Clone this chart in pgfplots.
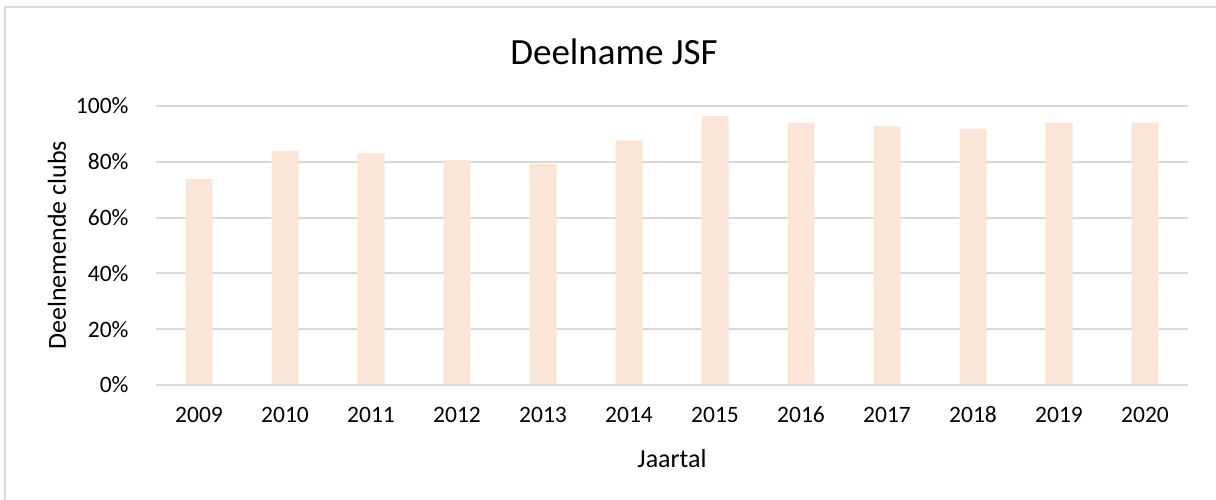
\documentclass[border=0pt]{standalone}
\usepackage{pgfplots}
\pgfplotsset{compat=1.18}
\usepackage{fontspec}
\setmainfont{Carlito}[Numbers=Lining]
\definecolor{barc}{HTML}{FBE5D6}
\definecolor{gridc}{HTML}{D9D9D9}
\begin{document}
\begin{tikzpicture}[x=1pt,y=1pt]
\path[use as bounding box] (0,0) rectangle (1216,499);
\draw[gridc, line width=2pt] (5,-20) -- (5,492) -- (1230,492);
\node[text=black, font=\fontsize{37}{44}\selectfont] at (614,447) {Deelname JSF};
\begin{axis}[
  at={(156pt,114pt)}, anchor=south west,
  scale only axis, width=1032pt, height=279pt,
  xmin=-0.5, xmax=11.5, ymin=0, ymax=100,
  xtick={0,...,11},
  xticklabels={2009,2010,2011,2012,2013,2014,2015,2016,2017,2018,2019,2020},
  ytick={0,20,40,60,80,100},
  yticklabel={\pgfmathprintnumber{\tick}\%},
  /pgf/number format/assume math mode=true,
  ymajorgrids, grid style={gridc, line width=2pt},
  axis line style={draw=none},
  axis x line*=bottom, axis y line*=left,
  major tick length=0pt,
  tick label style={text=black, font=\fontsize{23.5}{28}\selectfont},
  xticklabel style={anchor=base, yshift=-37pt},
  yticklabel style={anchor=east, xshift=-24pt},
  xlabel={Jaartal}, ylabel={Deelnemende clubs},
  label style={text=black, font=\fontsize{26}{31}\selectfont},
  xlabel style={at={(axis description cs:0.5,0)}, anchor=center, yshift=-74pt},
  ylabel style={at={(axis description cs:-0.0959,0.5)}, anchor=center},
  clip=false,
]
\addplot[ybar, bar width=27pt, fill=barc, draw=none] coordinates {
(0,73.8) (1,83.9) (2,83.0) (3,80.6) (4,79.3) (5,87.7)
(6,96.4) (7,94.0) (8,92.7) (9,91.8) (10,94.0) (11,94.0)};
\draw[gridc, line width=2pt] (axis cs:-0.5,0) -- (axis cs:11.5,0);
\end{axis}
\end{tikzpicture}
\end{document}
